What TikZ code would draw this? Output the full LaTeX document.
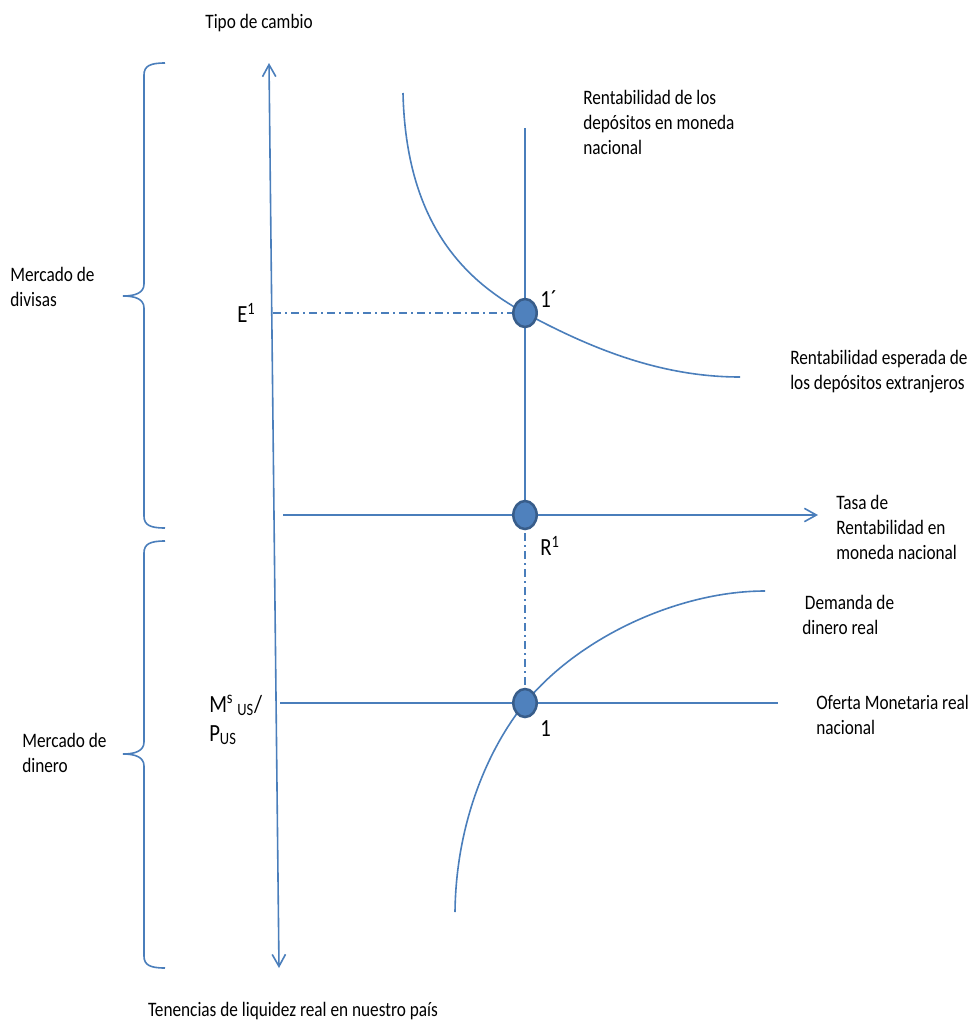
\documentclass[tikz,border=0pt]{standalone}
\usepackage{fontspec}
\setmainfont{Carlito}[FakeStretch=0.84]
\usetikzlibrary{arrows.meta,shapes.geometric}
\definecolor{lineblue}{HTML}{4A7EBB}
\definecolor{ptfill}{HTML}{4F81BD}
\definecolor{ptedge}{HTML}{385D8A}
\pgfdeclarelayer{bg}
\pgfsetlayers{bg,main}
\begin{document}
\begin{tikzpicture}[x=0.75pt,y=-0.75pt,
  ln/.style={draw=lineblue, line width=1.2pt},
  dashdot/.style={draw=lineblue, line width=1.2pt, dash pattern=on 6pt off 3pt on 1.5pt off 3pt},
  barb/.tip={Straight Barb[length=9pt,width=10pt]},
  pt/.style={ellipse, minimum width=17.5pt, minimum height=21pt, inner sep=0pt,
             fill=ptfill, draw=ptedge, line width=1.9pt},
  txt/.style={font=\fontsize{15.4}{18.75}\selectfont, align=left, inner sep=0pt},
  lbl/.style={font=\fontsize{18.5}{22}\selectfont, align=left, inner sep=0pt}]
\useasboundingbox (0,0) rectangle (977,1025);

% equilibrium points
\node[pt] (P1p) at (525,313) {};
\node[pt] (PR)  at (525,515) {};
\node[pt] (P1)  at (525,703) {};

% free ends of the lines
\coordinate (axTop) at (269,63);
\coordinate (axBot) at (279,968);
\coordinate (eStart) at (273,313);
\coordinate (vTop) at (525,128);
\coordinate (hStart) at (283,515);
\coordinate (hEnd) at (818,515);
\coordinate (mStart) at (280,703);
\coordinate (mEnd) at (778,703);
\coordinate (c1Top) at (403,93);
\coordinate (c1End) at (740,377);
\coordinate (c2Bot) at (455,912);
\coordinate (c2End) at (765,591);

\begin{pgfonlayer}{bg}
  % exchange-rate axis
  \draw[ln, barb-barb] (axTop) -- (axBot);
  % E1 level
  \draw[dashdot] (eStart) -- (P1p.center);
  % domestic deposit return
  \draw[ln] (vTop) -- (P1p.center) -- (PR.center);
  % interest-rate axis
  \draw[ln, -barb] (hStart) -- (PR.center) -- (hEnd);
  % link between the two markets
  \draw[dashdot] (PR.center) -- (P1.center);
  % real money supply
  \draw[ln] (mStart) -- (P1.center) -- (mEnd);
  % expected return on foreign deposits
  \draw[ln] (c1Top) .. controls (406,225) and (466,281) .. (P1p.center)
            .. controls (590,348) and (660,377) .. (c1End);
  % real money demand
  \draw[ln] (c2Bot) .. controls (456,820) and (490,746) .. (P1.center)
            .. controls (580,636) and (680,591) .. (c2End);
  % braces grouping the two markets
  \draw[ln] (165,63) .. controls (150,63) and (144,66) .. (144,75) -- (144,284)
            .. controls (144,293) and (135,296) .. (123,296)
            .. controls (135,296) and (144,299) .. (144,308) -- (144,516)
            .. controls (144,525) and (150,528) .. (165,528);
  \draw[ln] (165,541) .. controls (150,541) and (144,544) .. (144,553) -- (144,742)
            .. controls (144,751) and (135,754) .. (123,754)
            .. controls (135,754) and (144,757) .. (144,766) -- (144,956)
            .. controls (144,965) and (150,968) .. (165,968);
\end{pgfonlayer}

% axis titles and curve labels
\node[txt, anchor=base] (tTitle) at (259,28) {Tipo de cambio};
\node[txt, anchor=west] (tDiv) at (10,287) {Mercado de\\divisas};
\node[txt, anchor=west] (tDin) at (22,753) {Mercado de\\dinero};
\node[txt, anchor=west] (tDom) at (583,122) {Rentabilidad de los\\depósitos en moneda\\nacional};
\node[txt, anchor=west] (tFor) at (790,372) {Rentabilidad esperada de\\los depósitos extranjeros};
\node[txt, anchor=west] (tRate) at (836,527) {Tasa de\\Rentabilidad en\\moneda nacional};
\node[txt, anchor=west] (tDem) at (802,615) {\hspace{2pt}Demanda de\\dinero real};
\node[txt, anchor=west] (tSup) at (816,715) {Oferta Monetaria real\\nacional};
\node[txt, anchor=base] (tHold) at (293,1016) {Tenencias de liquidez real en nuestro país};

% point and level labels
\node[lbl, anchor=west] (lE) at (237,313) {E\textsuperscript{1}};
\node[lbl, anchor=west] (l1p) at (540,299) {1´};
\node[lbl, anchor=west] (lR) at (540,546) {R\textsuperscript{1}};
\node[lbl, anchor=west] (l1) at (540,729) {1};
\node[lbl, anchor=west] (lM) at (209,720) {M\textsuperscript{s}\,\textsubscript{US}/\\P\textsubscript{US}};
\end{tikzpicture}
\end{document}
